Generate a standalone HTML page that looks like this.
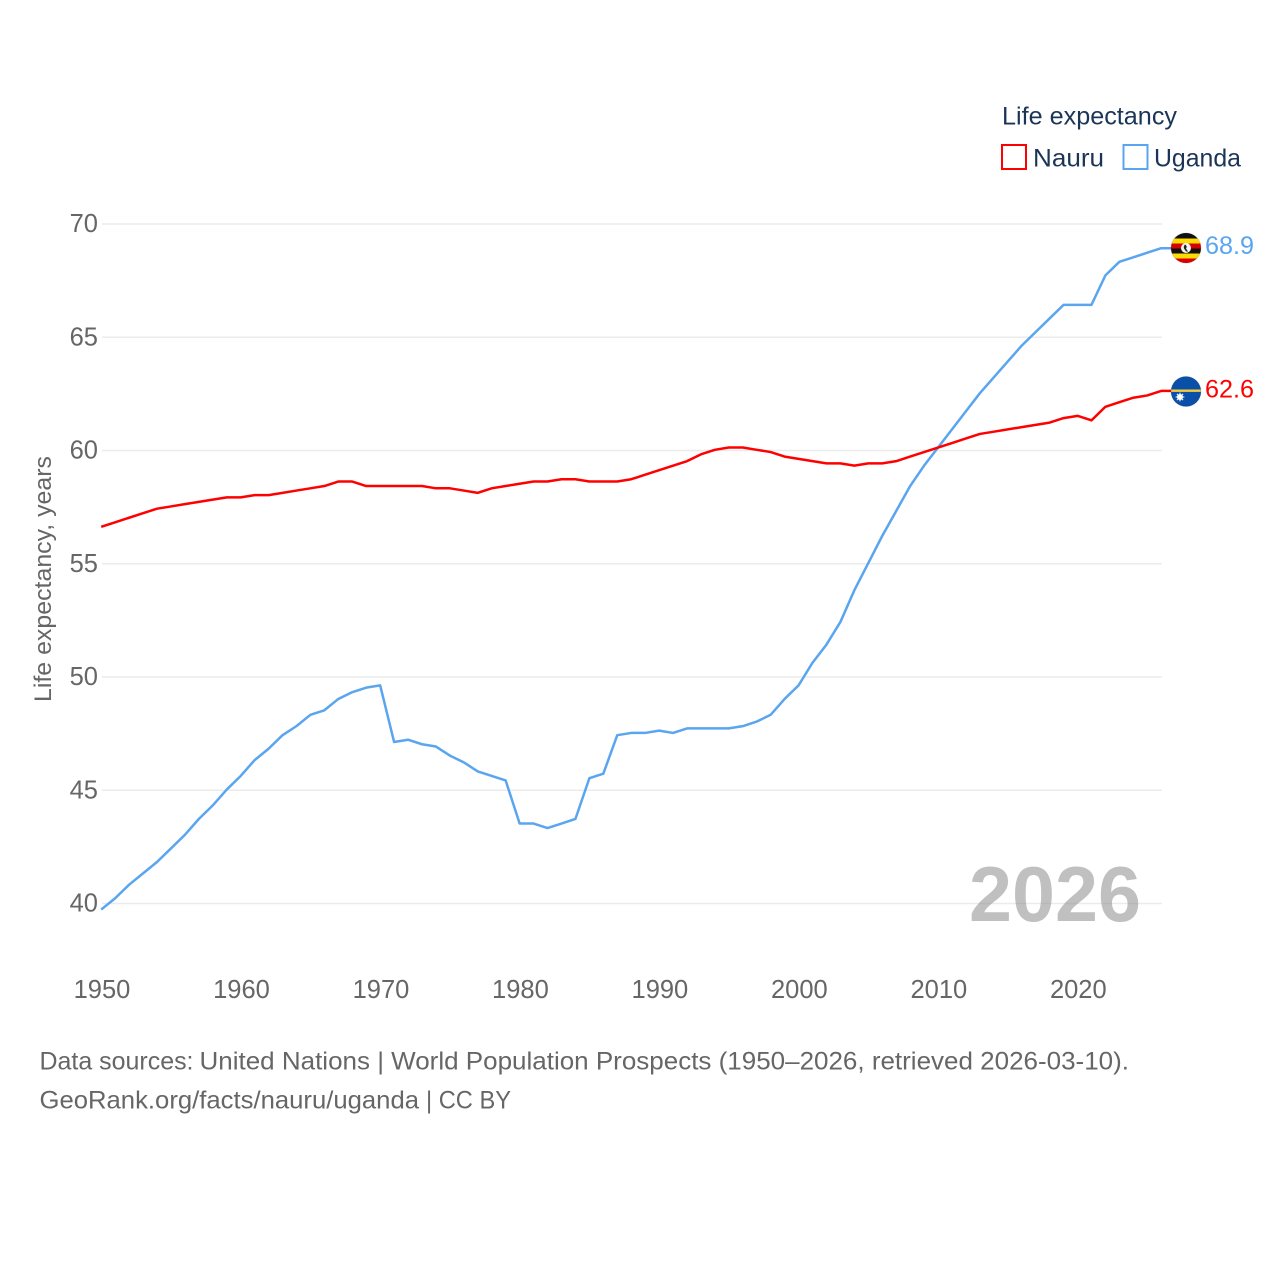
<!DOCTYPE html>
<html lang="en">
<head>
<meta charset="utf-8">
<title>Life expectancy: Nauru and Uganda</title>
<style>
html,body{margin:0;padding:0;background:#fff}
svg{display:block;font-family:"Liberation Sans",sans-serif}
</style>
</head>
<body>
<svg id="chart" xmlns="http://www.w3.org/2000/svg" width="1280" height="1280" viewBox="0 0 1280 1280">
  <rect width="1280" height="1280" fill="#fff"/>
  <g id="grid"></g>
  <g id="yticks"></g>
  <g id="xticks"></g>
  <text transform="translate(51,702) rotate(-90)" font-size="24.5" fill="#666" textLength="246" lengthAdjust="spacingAndGlyphs">Life expectancy, years</text>
  <text x="969" y="921" font-size="78" font-weight="700" fill="#8c8c8c" fill-opacity="0.55" textLength="172" lengthAdjust="spacingAndGlyphs">2026</text>
  <g id="series" transform="translate(-0.8,-0.7)"></g>

  <g>
    <text x="1002" y="124.5" font-size="25" fill="#1b3557" textLength="175" lengthAdjust="spacingAndGlyphs">Life expectancy</text>
    <rect x="1002" y="145" width="24" height="24" fill="#fff" stroke="#ff0000" stroke-width="2"/>
    <text x="1033" y="166.5" font-size="25" fill="#1b3557" textLength="71" lengthAdjust="spacingAndGlyphs">Nauru</text>
    <rect x="1123.5" y="145" width="24" height="24" fill="#fff" stroke="#5aa5f0" stroke-width="2"/>
    <text x="1154" y="166.5" font-size="25" fill="#1b3557" textLength="87" lengthAdjust="spacingAndGlyphs">Uganda</text>
  </g>

  <defs>
    <clipPath id="clip-ug"><circle cx="1186" cy="248" r="15"/></clipPath>
    <clipPath id="clip-nr"><circle cx="1186" cy="391.5" r="15"/></clipPath>
  </defs>
  <g id="flag-uganda" clip-path="url(#clip-ug)">
    <rect x="1171" y="233" width="30" height="5.5" fill="#111"/>
    <rect x="1171" y="238.5" width="30" height="5" fill="#fcdc04"/>
    <rect x="1171" y="243.5" width="30" height="5" fill="#d90000"/>
    <rect x="1171" y="248.5" width="30" height="5" fill="#111"/>
    <rect x="1171" y="253.5" width="30" height="5" fill="#fcdc04"/>
    <rect x="1171" y="258.5" width="30" height="5" fill="#d90000"/>
    <circle cx="1186" cy="248" r="5" fill="#f4f4f4"/>
    <path d="M1185 244.5c2 1 2 3 1 4l2 3h-2l-2-3c-.6-1.6 0-3 1-4z" fill="#222"/>
  </g>
  <circle cx="1186" cy="248" r="15" fill="none" stroke="#000" stroke-opacity="0.12" stroke-width="1"/>
  <g id="flag-nauru" clip-path="url(#clip-nr)">
    <rect x="1171" y="376.5" width="30" height="30" fill="#0a4fa8"/>
    <rect x="1171" y="389.5" width="30" height="2.4" fill="#f5c93c"/>
    <circle cx="1180" cy="397" r="3" fill="#fff"/>
    <path d="M1180 392.6v8.8M1175.6 397h8.8M1176.9 393.9l6.2 6.2M1183.1 393.9l-6.2 6.2" stroke="#fff" stroke-width="1"/>
  </g>
  <circle cx="1186" cy="391.5" r="15" fill="none" stroke="#000" stroke-opacity="0.12" stroke-width="1"/>
  <text x="1205" y="254" font-size="25" fill="#5aa5f0" textLength="49" lengthAdjust="spacingAndGlyphs">68.9</text>
  <text x="1205" y="397.5" font-size="25" fill="#ff0000" textLength="49" lengthAdjust="spacingAndGlyphs">62.6</text>

  <text x="39.5" y="1069.5" font-size="25" fill="#666" textLength="154" lengthAdjust="spacingAndGlyphs">Data sources:</text>
  <text x="199.5" y="1069.5" font-size="25" fill="#666" textLength="929.5" lengthAdjust="spacingAndGlyphs">United Nations | World Population Prospects (1950–2026, retrieved 2026-03-10).</text>
  <text x="39.5" y="1108.5" font-size="25" fill="#666" textLength="379.5" lengthAdjust="spacingAndGlyphs">GeoRank.org/facts/nauru/uganda</text>
  <text x="426" y="1108.5" font-size="25" fill="#666" textLength="85" lengthAdjust="spacingAndGlyphs">| CC BY</text>
</svg>
<script>
const startYear = 1950;
const nauruValues = [56.6,56.8,57.0,57.2,57.4,57.5,57.6,57.7,57.8,57.9,57.9,58.0,58.0,58.1,58.2,58.3,58.4,58.6,58.6,58.4,58.4,58.4,58.4,58.4,58.3,58.3,58.2,58.1,58.3,58.4,58.5,58.6,58.6,58.7,58.7,58.6,58.6,58.6,58.7,58.9,59.1,59.3,59.5,59.8,60.0,60.1,60.1,60.0,59.9,59.7,59.6,59.5,59.4,59.4,59.3,59.4,59.4,59.5,59.7,59.9,60.1,60.3,60.5,60.7,60.8,60.9,61.0,61.1,61.2,61.4,61.5,61.3,61.9,62.1,62.3,62.4,62.6];
const ugandaValues = [39.7,40.2,40.8,41.3,41.8,42.4,43.0,43.7,44.3,45.0,45.6,46.3,46.8,47.4,47.8,48.3,48.5,49.0,49.3,49.5,49.6,47.1,47.2,47.0,46.9,46.5,46.2,45.8,45.6,45.4,43.5,43.5,43.3,43.5,43.7,45.5,45.7,47.4,47.5,47.5,47.6,47.5,47.7,47.7,47.7,47.7,47.8,48.0,48.3,49.0,49.6,50.6,51.4,52.4,53.8,55.0,56.2,57.3,58.4,59.3,60.1,60.9,61.7,62.5,63.2,63.9,64.6,65.2,65.8,66.4,66.4,66.4,67.7,68.3,68.5,68.7,68.9];
const yTickValues = [40,45,50,55,60,65,70];
const xTickValues = [1950,1960,1970,1980,1990,2000,2010,2020];

const NS = 'http://www.w3.org/2000/svg';
const xScale = year => 102 + (year - 1950) * (1060 / 76);
const yScale = value => 903.5 - (value - 40) * (679.5 / 30);

const gridGroup = document.getElementById('grid');
const yTickGroup = document.getElementById('yticks');
const xTickGroup = document.getElementById('xticks');
const seriesGroup = document.getElementById('series');

yTickValues.forEach(value => {
  const line = document.createElementNS(NS, 'line');
  
  
  line.setAttribute('x1', 102);
  line.setAttribute('x2', 1162);
  line.setAttribute('y1', yScale(value));
  line.setAttribute('y2', yScale(value));
  line.setAttribute('stroke', '#ebebeb');
  line.setAttribute('stroke-width', 1.5);
  gridGroup.appendChild(line);

  const label = document.createElementNS(NS, 'text');
  
  
  label.setAttribute('x', 98);
  label.setAttribute('y', yScale(value) + 8);
  label.setAttribute('text-anchor', 'end');
  label.setAttribute('font-size', 25.5);
  label.setAttribute('fill', '#666');
  label.textContent = value;
  yTickGroup.appendChild(label);
});

xTickValues.forEach(year => {
  const label = document.createElementNS(NS, 'text');
  
  
  label.setAttribute('x', xScale(year));
  label.setAttribute('y', 998);
  label.setAttribute('text-anchor', 'middle');
  label.setAttribute('font-size', 25.5);
  label.setAttribute('fill', '#666');
  label.textContent = year;
  xTickGroup.appendChild(label);
});

function linePoints(values) {
  const pts = values.map((v, i) => xScale(startYear + i).toFixed(2) + ',' + yScale(v).toFixed(2));
  pts.push('1172,' + yScale(values[values.length - 1]).toFixed(2));
  return pts.join(' ');
}

const ugandaLine = document.createElementNS(NS, 'polyline');


ugandaLine.setAttribute('points', linePoints(ugandaValues));
ugandaLine.setAttribute('fill', 'none');
ugandaLine.setAttribute('stroke', '#5aa5f0');
ugandaLine.setAttribute('stroke-width', 2.5);
ugandaLine.setAttribute('stroke-linejoin', 'round');
seriesGroup.appendChild(ugandaLine);

const nauruLine = document.createElementNS(NS, 'polyline');


nauruLine.setAttribute('points', linePoints(nauruValues));
nauruLine.setAttribute('fill', 'none');
nauruLine.setAttribute('stroke', '#ff0000');
nauruLine.setAttribute('stroke-width', 2.5);
nauruLine.setAttribute('stroke-linejoin', 'round');
seriesGroup.appendChild(nauruLine);
</script>
</body>
</html>
